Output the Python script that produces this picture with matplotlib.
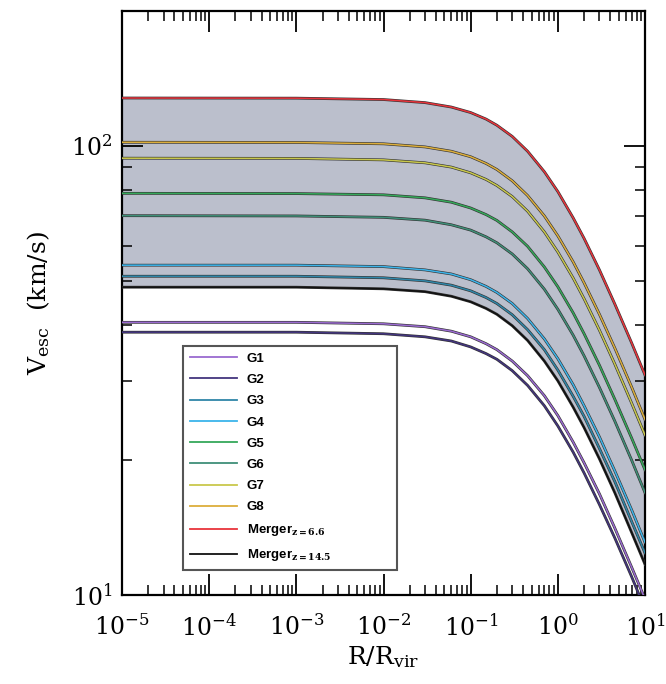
import numpy as np
import matplotlib
matplotlib.use('Agg')
import matplotlib.pyplot as plt
import matplotlib.patheffects as pe

matplotlib.rcParams['font.family'] = 'DejaVu Serif'
matplotlib.rcParams['mathtext.fontset'] = 'dejavuserif'

# R/Rvir sample points
r_over_rvir = [1e-5, 1e-3, 1e-2, 0.03, 0.06, 0.1, 0.15, 0.2, 0.3, 0.45,
               0.7, 1.0, 1.5, 2.0, 3.0, 4.5, 7.0, 10.0]

# escape velocity curves (km/s)
v_g1 = [40.5, 40.5, 40.2, 39.6, 38.7, 37.6, 36.3, 35.2, 33.2, 30.8,
        27.8, 25.1, 21.9, 19.7, 16.8, 14.1, 11.55, 9.8]
v_g2 = [38.5, 38.5, 38.2, 37.6, 36.8, 35.7, 34.5, 33.5, 31.6, 29.3,
        26.4, 23.8, 20.8, 18.7, 15.9, 13.4, 11.0, 9.3]
v_g3 = [51.3, 51.3, 50.9, 50.1, 49.0, 47.6, 46.0, 44.6, 42.1, 39.0,
        35.2, 31.7, 27.7, 25.0, 21.2, 17.9, 14.6, 12.4]
v_g4 = [54.3, 54.3, 53.9, 53.0, 51.9, 50.4, 48.7, 47.2, 44.6, 41.3,
        37.2, 33.6, 29.4, 26.4, 22.5, 18.9, 15.5, 13.1]
v_g5 = [78.5, 78.4, 77.9, 76.7, 75.0, 72.8, 70.4, 68.3, 64.4, 59.8,
        53.8, 48.6, 42.5, 38.2, 32.5, 27.3, 22.4, 19.0]
v_g6 = [70.0, 69.9, 69.4, 68.4, 66.8, 65.0, 62.8, 60.9, 57.5, 53.3,
        48.0, 43.3, 37.9, 34.1, 29.0, 24.4, 20.0, 16.9]
v_g7 = [94.0, 93.9, 93.2, 91.8, 89.8, 87.2, 84.3, 81.7, 77.2, 71.6,
        64.4, 58.1, 50.8, 45.7, 38.9, 32.7, 26.8, 22.7]
v_g8 = [102.0, 101.9, 101.2, 99.6, 97.4, 94.7, 91.5, 88.7, 83.7, 77.6,
        69.9, 63.1, 55.2, 49.6, 42.2, 35.5, 29.1, 24.6]
v_merger1 = [128.0, 127.9, 127.0, 125.0, 122.2, 118.8, 114.9, 111.3, 105.1, 97.4,
             87.7, 79.2, 69.2, 62.3, 53.0, 44.5, 36.5, 30.9]
v_merger2 = [48.5, 48.5, 48.1, 47.4, 46.3, 45.0, 43.5, 42.2, 39.8, 36.9,
             33.2, 30.0, 26.2, 23.6, 20.1, 16.9, 13.8, 11.7]

curves = [
    ("G1", v_g1, '#9a6ad0'),
    ("G2", v_g2, '#43357e'),
    ("G3", v_g3, '#2f86a8'),
    ("G4", v_g4, '#3cb4ea'),
    ("G5", v_g5, '#35a85a'),
    ("G6", v_g6, '#3f8f78'),
    ("G7", v_g7, '#c9c84c'),
    ("G8", v_g8, '#dcae3c'),
    ("Merger$_{\\mathbf{z=6.6}}$", v_merger1, '#e8343c'),
    ("Merger$_{\\mathbf{z=14.5}}$", v_merger2, '#111111'),
]

fig = plt.figure(figsize=(6.66, 6.84), dpi=100)
ax = fig.add_axes([0.1832, 0.1301, 0.7853, 0.8538])

ax.fill_between(r_over_rvir, v_merger2, v_merger1, color='#bbbfcc', lw=0, zorder=1)

for name, v, c in curves:
    ax.plot(r_over_rvir, v, color=c, lw=1.1, label=name, zorder=3,
            path_effects=[pe.Stroke(linewidth=2.0, foreground='#333333'), pe.Normal()])

ax.set_xscale('log')
ax.set_yscale('log')
ax.set_xlim(1e-5, 10)
ax.set_ylim(10, 200)
ax.set_xticks([1e-5, 1e-4, 1e-3, 1e-2, 1e-1, 1, 10])

ax.tick_params(which='both', direction='in', top=True, right=True, labelsize=17)
ax.tick_params(axis='x', which='major', pad=14)
ax.tick_params(axis='y', which='major', pad=7)
ax.tick_params(which='major', length=15, width=1.3)
ax.tick_params(which='minor', length=7, width=1.1)
for s in ax.spines.values():
    s.set_linewidth(1.6)

ax.set_xlabel(r'R/R$_{\rm vir}$', fontsize=18, labelpad=2)
ax.set_ylabel(r'V$_{\rm esc}$  (km/s)', fontsize=18, labelpad=14)

lgd = ax.legend(loc='lower left', bbox_to_anchor=(0.117, 0.043, 0.409, 0.385), mode='expand',
                borderaxespad=0,
                prop={'family': 'Liberation Sans', 'weight': 'bold', 'size': 9.5},
                handlelength=3.6, handletextpad=0.7, labelspacing=0.68, borderpad=0.5,
                fancybox=False, framealpha=1, edgecolor='#555555')
lgd.get_frame().set_linewidth(1.5)
for h in lgd.get_lines():
    h.set_path_effects([])
    h.set_linewidth(1.3)

fig.savefig('out.png', dpi=100)
